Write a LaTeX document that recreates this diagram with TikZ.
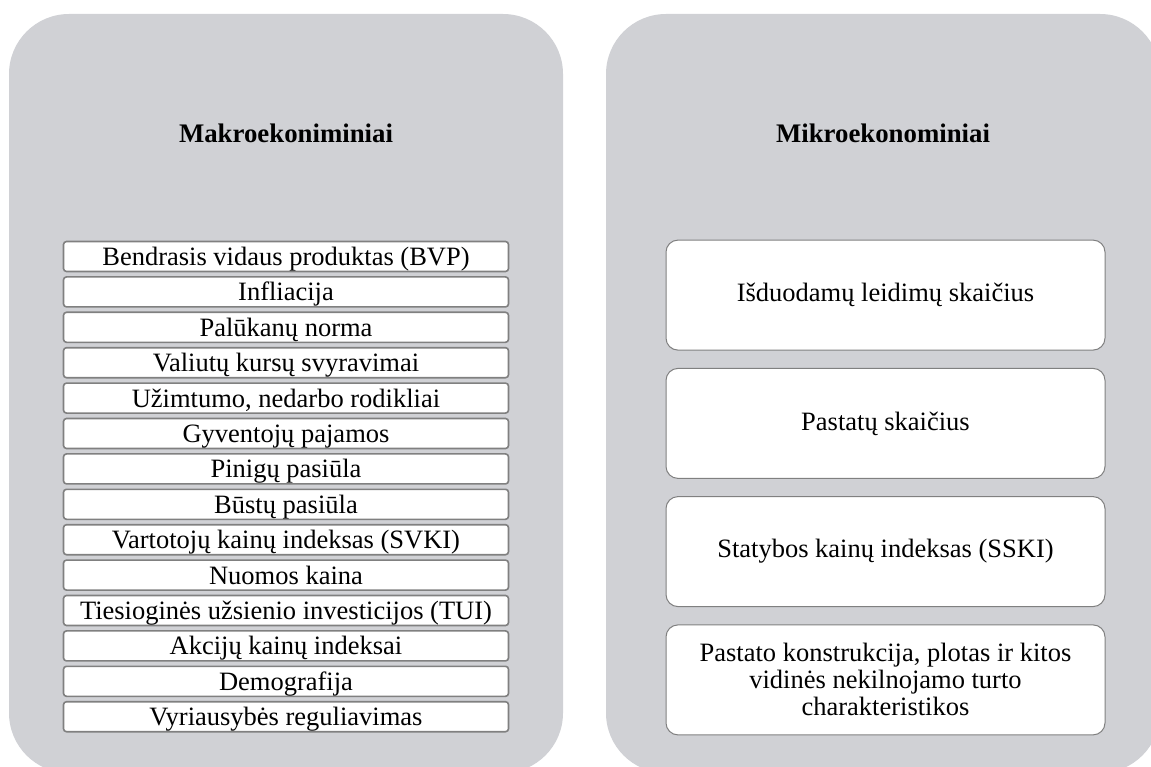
\documentclass[tikz,border=0pt]{standalone}
\usepackage{fontspec}
\setmainfont{Liberation Serif}
\definecolor{panelgray}{RGB}{208,209,213}
\definecolor{edgegray}{RGB}{128,128,128}
\begin{document}
\begin{tikzpicture}[x=1pt,y=-1pt,
  panel/.style={fill=panelgray,draw=none,rounded corners=60pt},
  title/.style={font=\fontsize{26.8}{30}\selectfont\bfseries,anchor=center},
  macrobox/.style={draw=edgegray,line width=1.6pt,fill=white,rounded corners=3pt,
    minimum width=445pt,minimum height=30pt,inner sep=0pt,
    text height=20pt,text depth=2pt,
    font=\fontsize{26.5}{28}\selectfont},
  microbox/.style={draw=edgegray,line width=1pt,fill=white,rounded corners=12pt,
    minimum width=439pt,minimum height=110pt,inner sep=0pt,align=center,
    font=\fontsize{26.5}{27}\selectfont}]
\useasboundingbox (0,0) rectangle (1151,767);
\begin{scope}
\clip (0,0) rectangle (1151,767);
% background panels
\fill[panel] (9,14) rectangle (563,773);
\fill[panel] (606,14) rectangle (1160,773);
\end{scope}
% panel titles
\node[title] (macro) at (286,133) {Makroekoniminiai};
\node[title] (micro) at (883,133) {Mikroekonominiai};
% macroeconomic factors
\foreach \i/\txt in {0/{Bendrasis vidaus produktas (BVP)},1/{Infliacija},
  2/{Palūkanų norma},3/{Valiutų kursų svyravimai},4/{Užimtumo, nedarbo rodikliai},
  5/{Gyventojų pajamos},6/{Pinigų pasiūla},7/{Būstų pasiūla},
  8/{Vartotojų kainų indeksas (SVKI)},9/{Nuomos kaina},
  10/{Tiesioginės užsienio investicijos (TUI)},11/{Akcijų kainų indeksai},
  12/{Demografija},13/{Vyriausybės reguliavimas}}
  \node[macrobox] (m\i) at (286,{256.5+35.4*\i}) {\txt};
% microeconomic factors
\node[microbox] (u0) at (885.5,295.1) {Išduodamų leidimų skaičius};
\node[microbox] (u1) at (885.5,423.4) {Pastatų skaičius};
\node[microbox] (u2) at (885.5,551.6) {Statybos kainų indeksas (SSKI)};
\node[microbox] (u3) at (885.5,679.9) {Pastato konstrukcija, plotas ir kitos\\vidinės nekilnojamo turto\\charakteristikos};
\end{tikzpicture}
\end{document}
